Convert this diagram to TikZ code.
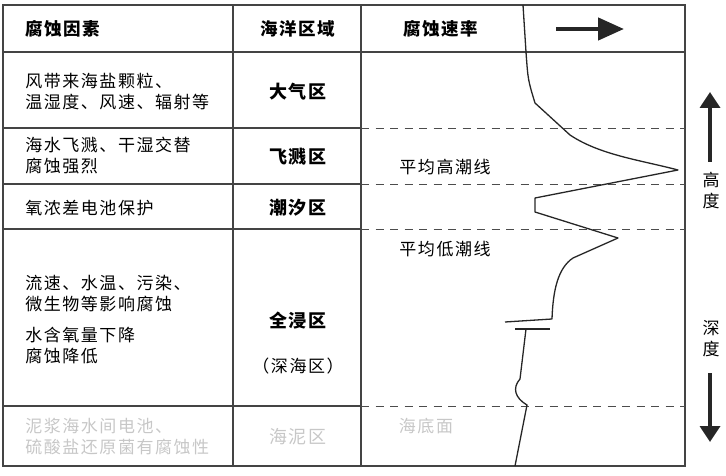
\documentclass[tikz,border=0pt]{standalone}
\usepackage{fontspec}
\newfontfamily\cjk[LetterSpace=9]{Noto Sans CJK SC}
\usepackage{tikz}
\usetikzlibrary{arrows.meta}
\tikzset{every picture/.style={line width=0.75pt}}
\tikzset{txt/.style={font=\cjk\fontsize{17}{21}\selectfont,inner sep=0pt},
  lft/.style={txt,anchor=west,align=left},
  head/.style={txt,font=\cjk\bfseries\fontsize{17.5}{21}\selectfont},
  zone/.style={txt,font=\cjk\bfseries\fontsize{18}{21}\selectfont},
  pale/.style={text=black!22},
  level/.style={draw=black!70,dash pattern=on 8pt off 6.5pt,line width=0.9pt}}
\definecolor{frame}{HTML}{444444}

\begin{document}
\begin{tikzpicture}[x=1pt,y=-1pt]
\useasboundingbox (0,0) rectangle (726,476);
% table frame
\draw[frame,line width=1.4pt] (3,5) rectangle (685,466);
\draw[frame,line width=1.2pt] (233,5) -- (233,466);
\draw[frame,line width=1.2pt] (361,5) -- (361,466);
\draw[frame,line width=1.2pt] (3,52) -- (685,52);
\draw[frame,line width=1.2pt] (3,128) -- (361,128);
\draw[frame,line width=1.2pt] (3,184) -- (361,184);
\draw[frame,line width=1.2pt] (3,229) -- (361,229);
\draw[frame,line width=1.2pt] (3,406) -- (361,406);
%
\draw[level] (361,128) -- (685,128);
\draw[level] (361,184) -- (685,184);
\draw[level] (361,229) -- (685,229);
\draw[level] (361,406) -- (685,406);
% headings
\node[head,anchor=west] (h1) at (25,29) {腐蚀因素};
\node[head] (h2) at (298,29) {海洋区域};
\node[head] (h3) at (441,29) {腐蚀速率};
\coordinate (r0) at (556,29);
\coordinate (r1) at (624,29);
\draw[line width=4.5pt,-{Triangle[length=26pt,width=22pt]},black!85] (r0) -- (r1);
% factors
\node[lft] (f1) at (25,92) {风带来海盐颗粒、\\温湿度、风速、辐射等};
\node[lft] (f2) at (25,156) {海水飞溅、干湿交替\\腐蚀强烈};
\node[lft] (f3) at (25,208) {氧浓差电池保护};
\node[lft] (f4) at (25,294) {流速、水温、污染、\\微生物等影响腐蚀};
\node[lft] (f5) at (25,346) {水含氧量下降\\腐蚀降低};
\node[lft,pale] (f6) at (25,437) {泥浆海水间电池、\\硫酸盐还原菌有腐蚀性};
% zones
\node[zone] (z1) at (298,92) {大气区};
\node[zone] (z2) at (298,157) {飞溅区};
\node[zone] (z3) at (298,208) {潮汐区};
\node[zone] (z4) at (298,321) {全浸区};
\node[txt] (z5) at (298,366) {（深海区）};
\node[txt,pale,font=\cjk\fontsize{18}{21}\selectfont] (z6) at (298,437) {海泥区};
% levels
\node[txt] (l1) at (445,167) {平均高潮线};
\node[txt] (l2) at (445,249) {平均低潮线};
\node[txt,pale] (l3) at (426,426) {海底面};
% rate curve
\draw[line width=1.3pt,black!85,line join=round]
  (523,5) -- (526,52) .. controls (528,80) .. (535,103) -- (570,135)
  .. controls (600,155) and (640,160) .. (678,170) -- (535,198) -- (535,212)
  -- (618,238) -- (573,258) .. controls (558,268) and (553,290) .. (552,319)
  -- (505,322);
\draw[line width=1.3pt,black!85] (515,329) -- (550,329);
\draw[line width=1.3pt,black!85]
  (526,329) -- (520,379) .. controls (512,388) and (515,398) .. (527,405)
  -- (515,466);
% height and depth
\node[txt,align=center] (a1) at (711,191) {高\\度};
\node[txt,align=center] (a2) at (711,339) {深\\度};
\coordinate (u0) at (710,162);
\coordinate (u1) at (710,92);
\coordinate (d0) at (710,373);
\coordinate (d1) at (710,442);
\draw[line width=3.5pt,-{Triangle[length=16pt,width=20pt]},black!85] (u0) -- (u1);
\draw[line width=3.5pt,-{Triangle[length=16pt,width=20pt]},black!85] (d0) -- (d1);
\end{tikzpicture}
\end{document}
